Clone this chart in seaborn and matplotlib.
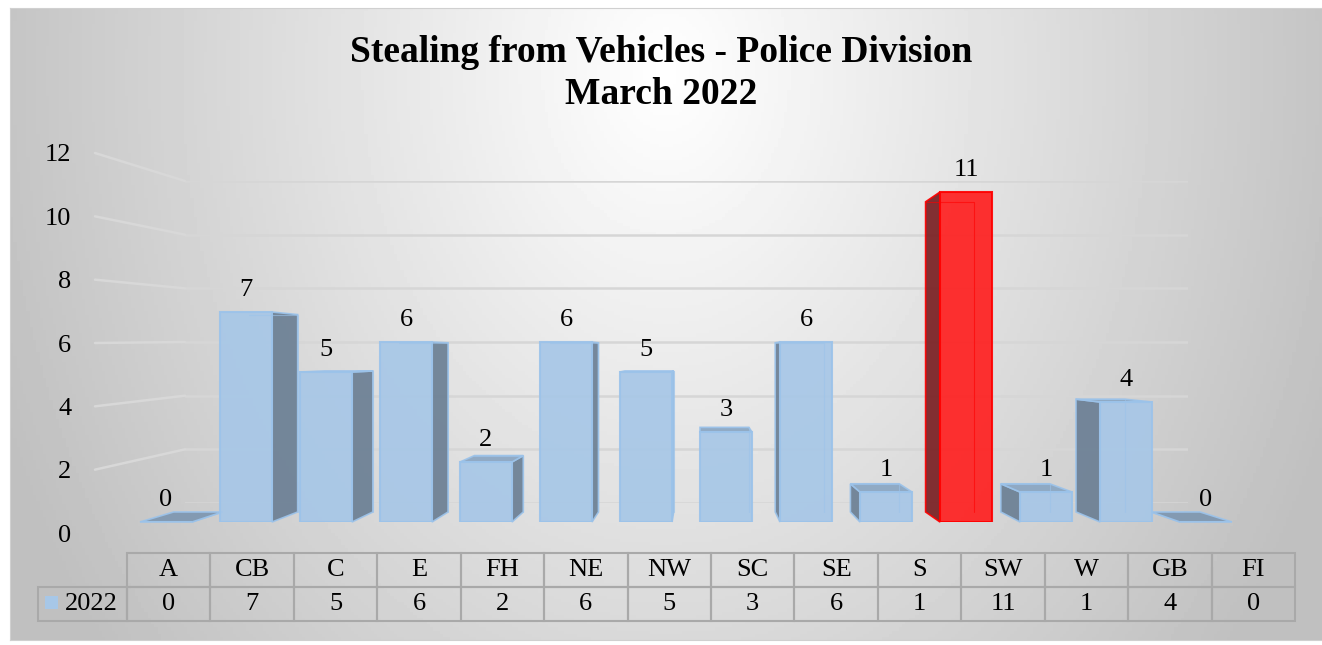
import numpy as np
import pandas as pd
import matplotlib
matplotlib.use("Agg")
import matplotlib.pyplot as plt
import seaborn as sns
from matplotlib.patches import Polygon, Rectangle
from matplotlib.lines import Line2D
from matplotlib.transforms import IdentityTransform

# -------------------- DATA --------------------
divisions = ["A", "CB", "C", "E", "FH", "NE", "NW", "SC", "SE", "S", "SW", "W", "GB", "FI"]
counts = [0, 7, 5, 6, 2, 6, 5, 3, 6, 1, 11, 1, 4, 0]
series_name = "2022"
y_ticks = [0, 2, 4, 6, 8, 10, 12]
title = "Stealing from Vehicles - Police Division\nMarch 2022"

df = pd.DataFrame({"division": divisions, "count": counts})

# -------------------- STYLE --------------------
sns.set_style("white")
plt.rcParams["font.family"] = ["Liberation Serif", "DejaVu Serif"]
plt.rcParams["text.color"] = "black"
plt.rcParams["ytick.color"] = "black"
plt.rcParams["xtick.color"] = "black"

BLUE = "#a7c7e7"
BLUE_EDGE = "#9cc3ea"
BLUE_SIDE = "#6b7f94"
BLUE_TOP = "#8aa6c2"
RED = "#ff2020"
RED_EDGE = "#ff0000"
RED_SIDE = "#7a1f22"
RED_TOP = "#d01010"
FS = 19

W, H = 1322, 645
fig = plt.figure(figsize=(W / 100, H / 100), dpi=100)


def px_axes(x0, y0, x1, y1):
    # axes from pixel box given with top-left origin
    return fig.add_axes([x0 / W, 1 - y1 / H, (x1 - x0) / W, (y1 - y0) / H])


# -------------------- BACKGROUND --------------------
bg = px_axes(10, 8, 1322, 640)
xx, yy = np.meshgrid(np.linspace(0, 1, 400), np.linspace(0, 1, 200))
d = np.hypot((xx - 0.5) / 0.55, (yy - 0.1) / 1.5)
shade = 1 - 0.25 * np.clip(d, 0, 1)
bg.imshow(shade, cmap="gray", vmin=0, vmax=1, aspect="auto", extent=[0, 1, 1, 0])
bg.set_xlim(0, 1)
bg.set_ylim(1, 0)
for s in bg.spines.values():
    s.set_color("#d0d0d0")
bg.set_xticks([])
bg.set_yticks([])

# -------------------- BACK WALL + FLOOR --------------------
wall = px_axes(185, 181, 1188, 503)
wall.set_ylim(0, 12)
wall.set_xlim(0, 1)
wall.set_facecolor("none")
wall.set_yticks(y_ticks)
wall.set_yticklabels([])
wall.set_xticks([])
wall.tick_params(length=0)
wall.grid(axis="y", color="#d6d6d6", lw=1.8)
sns.despine(ax=wall, left=True, bottom=True)

floor = Polygon([(97, H - 533), (185, H - 503), (1190, H - 503), (1278, H - 533)],
                closed=True, facecolor="#b9b9b9", edgecolor="none",
                transform=IdentityTransform(), zorder=0)
fig.add_artist(floor)

# y tick labels (front plane)
lab = px_axes(95, 153, 96, 533)
lab.set_ylim(0, 12)
lab.set_yticks(y_ticks)
lab.set_yticklabels([str(t) for t in y_ticks], fontsize=FS)
lab.tick_params(axis="y", length=0, pad=17)
lab.set_xticks([])
lab.set_facecolor("none")
sns.despine(ax=lab, left=True, bottom=True)

# slanted connectors from the labels to the wall grid
for t in y_ticks[1:]:
    p0 = lab.transData.transform((0, t))
    p1 = wall.transData.transform((0, t))
    fig.add_artist(Line2D([p0[0], p1[0]], [p0[1], p1[1]], color="#d8d8d8", lw=1.8,
                          transform=IdentityTransform(), zorder=0.5))

# -------------------- BARS --------------------
ax = px_axes(126, 522 - 12 * 30, 1246, 522)
colors = {d_: (RED if c == max(counts) else BLUE) for d_, c in zip(divisions, counts)}
sns.barplot(data=df, x="division", y="count", hue="division", palette=colors,
            width=0.65, legend=False, ax=ax, zorder=3)
ax.set_xlim(-0.5, len(divisions) - 0.5)
ax.set_ylim(0, 12)
ax.set_facecolor("none")
ax.axis("off")

VX, VY, S = 700, H - 355, 0.94


def back(p):
    return (VX + S * (p[0] - VX), VY + S * (p[1] - VY))


bars = sorted(ax.patches, key=lambda p: p.get_x())
for bar, val in zip(bars, counts):
    red = val == max(counts)
    bar.set_facecolor(RED if red else BLUE)
    bar.set_alpha(0.92)
    bar.set_edgecolor(RED_EDGE if red else BLUE_EDGE)
    bar.set_linewidth(1.5)
    side_c = RED_SIDE if red else BLUE_SIDE
    top_c = RED_TOP if red else BLUE_TOP

    fl_b = ax.transData.transform((bar.get_x(), 0))
    fr_t = ax.transData.transform((bar.get_x() + bar.get_width(), bar.get_height()))
    fr_b = (fr_t[0], fl_b[1])
    fl_t = (fl_b[0], fr_t[1])
    bl_b, br_b, bl_t, br_t = back(fl_b), back(fr_b), back(fl_t), back(fr_t)

    faces = []
    if br_b[0] > fr_b[0] + 0.5:
        faces.append(([fr_b, fr_t, br_t, br_b], side_c))
    if bl_b[0] < fl_b[0] - 0.5:
        faces.append(([fl_b, fl_t, bl_t, bl_b], side_c))
    if bl_t[1] > fl_t[1] or val == 0:
        faces.append(([fl_t, fr_t, br_t, bl_t], top_c if val else "#7d96b0"))
    for pts, fc in faces:
        ax.add_patch(Polygon(pts, closed=True, facecolor=fc, alpha=0.92,
                             edgecolor=RED_EDGE if red else BLUE_EDGE, lw=1.2,
                             transform=IdentityTransform(), clip_on=False, zorder=2))
    # faint back edges seen through the bar
    if val:
        ax.add_line(Line2D([bl_t[0], br_t[0], br_b[0]], [bl_t[1], br_t[1], br_b[1]],
                           color=RED_EDGE if red else BLUE_EDGE, lw=0.8, alpha=0.6,
                           transform=IdentityTransform(), clip_on=False, zorder=4))

for cont in ax.containers:
    ax.bar_label(cont, fmt="%d", padding=8, fontsize=FS)

# -------------------- TITLE --------------------
fig.text(0.5, 1 - 52 / H, title.split("\n")[0], ha="center", va="center",
         fontsize=27, fontweight="bold", color="black")
fig.text(0.5, 1 - 95 / H, title.split("\n")[1], ha="center", va="center",
         fontsize=27, fontweight="bold", color="black")

# -------------------- DATA TABLE --------------------
# widths/heights in axes fractions so the bbox fit is an identity scale;
# the row label cell sits just left of the data grid
tab_ax = px_axes(127, 553, 1295, 621)
tab_ax.axis("off")
tbl = tab_ax.table(cellText=[[str(c) for c in counts]], colLabels=divisions,
                   cellLoc="center", colWidths=[1 / len(divisions)] * len(divisions),
                   bbox=[0, 0, 1, 1])
tbl.add_cell(1, -1, width=(127 - 38) / (1295 - 127), height=0.5,
             text=series_name, loc="right")
tbl.auto_set_font_size(False)
for (r, c), cell in tbl.get_celld().items():
    cell.set_height(0.5)
    cell.set_edgecolor("#a9a9a9")
    cell.set_facecolor("none")
    cell.set_linewidth(1.5)
    cell.get_text().set_fontsize(FS)
    cell.get_text().set_color("black")

# legend key in front of the series name
fig.add_artist(Rectangle((45, H - 609), 13, 13, facecolor=BLUE, edgecolor="none",
                         transform=IdentityTransform()))

fig.savefig("out.png", dpi=100)
